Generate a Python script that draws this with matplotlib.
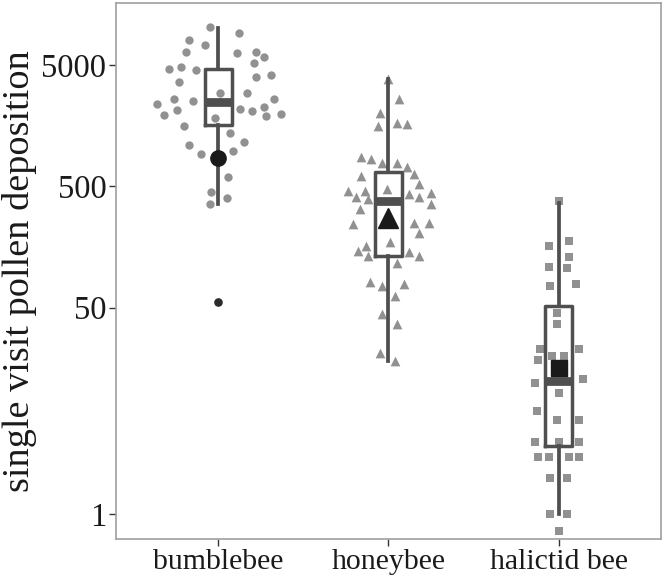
import numpy as np
import matplotlib
matplotlib.use("Agg")
import matplotlib.pyplot as plt

plt.rcParams['font.family'] = ['Liberation Serif', 'DejaVu Serif']

categories = ["bumblebee", "honeybee", "halictid bee"]

# single visit pollen deposition
bumble_vals = [10200, 9220, 8070, 7260, 6350, 6310, 6430, 5780, 5220, 4600,
               4790, 4520, 3980, 4160, 3620, 2920, 2940, 2400, 2610, 2540,
               2130, 1950, 1830, 2160, 2080, 2250, 2620, 1900, 1980, 1570,
               1370, 1090, 1150, 929, 984, 593, 447, 401, 358]
bumble_jit = [-0.05, 0.12, -0.17, -0.08, -0.19, 0.11, 0.22, 0.27, 0.21, -0.29,
              -0.22, -0.13, 0.22, 0.31, -0.23, 0.01, 0.17, -0.36, -0.26, -0.15,
              -0.24, -0.32, -0.02, 0.13, 0.20, 0.27, 0.33, 0.28, 0.37, -0.20,
              0.07, -0.17, 0.15, -0.10, 0.09, 0.06, -0.04, 0.05, -0.05]

honey_vals = [3800, 2610, 2000, 1580, 1650, 1620, 867, 835, 774, 778,
              726, 632, 612, 520, 460, 411, 460, 391, 473, 430,
              408, 443, 360, 327, 245, 251, 251, 205, 174, 161,
              146, 133, 143, 133, 116, 81, 75, 78, 62, 44,
              37, 21, 18.3]
honey_jit = [0.00, 0.06, -0.05, -0.06, 0.05, 0.11, -0.16, -0.10, -0.04, 0.05,
             0.11, 0.15, -0.16, 0.18, -0.24, -0.19, -0.14, -0.12, -0.01, 0.12,
             0.18, 0.25, 0.25, -0.17, -0.21, 0.15, 0.24, 0.18, 0.01, -0.13,
             -0.18, -0.12, 0.12, 0.18, 0.05, -0.11, -0.04, 0.09, 0.04, -0.04,
             0.05, -0.05, 0.04]

halict_vals = [381, 160, 177, 132, 108, 106, 75.5, 79, 45.5, 36.5,
               22.7, 18.7, 20, 20, 22.7, 11.9, 12.9, 10, 7.0, 5.95,
               5.95, 3.94, 3.94, 3.94, 2.97, 2.97, 2.97, 2.97, 1.97, 1.97,
               0.99, 0.99, 0.72]
halict_jit = [0.00, -0.06, 0.06, 0.06, -0.06, 0.05, -0.05, 0.10, -0.01, -0.01,
              -0.11, -0.12, -0.04, 0.03, 0.12, -0.14, 0.14, 0.00, -0.13, -0.01,
              0.12, -0.14, 0.00, 0.12, -0.12, -0.06, 0.06, 0.12, -0.05, 0.05,
              -0.05, 0.05, 0.00]

# box statistics
box_q1 = [1600, 133, 3.65]
box_med = [2460, 379, 12.5]
box_q3 = [4600, 660, 51.7]
whis_lo = [358, 18.3, 1.0]
whis_hi = [10000, 3800, 367]
outliers = [[56], [], []]

means = [851, 273, 15.9]
shapes = ['o', '^', 's']

fig = plt.figure(figsize=(6.65, 5.87), dpi=100)
ax = fig.add_axes([0.1744, 0.0818, 0.8196, 0.9131])

pts_color = '#919191'
dark = '#4f4f4f'
pt_sizes = [6.0, 7.0, 5.3]
all_vals = [bumble_vals, honey_vals, halict_vals]
all_jit = [bumble_jit, honey_jit, halict_jit]
for i in range(3):
    xs = (i + 1) + np.array(all_jit[i])
    ax.scatter(xs, all_vals[i], marker=shapes[i], s=pt_sizes[i] ** 2,
               color=pts_color, linewidths=0, zorder=1)

stats = []
for i in range(3):
    stats.append(dict(med=box_med[i], q1=box_q1[i], q3=box_q3[i],
                      whislo=whis_lo[i], whishi=whis_hi[i], fliers=outliers[i]))
ax.bxp(stats, positions=[1, 2, 3], widths=0.16, showcaps=False,
       boxprops=dict(color=dark, linewidth=2.5),
       whiskerprops=dict(color=dark, linewidth=2.7),
       medianprops=dict(color=dark, linewidth=6.3, solid_capstyle='butt'),
       flierprops=dict(marker='o', markerfacecolor='#2b2b2b',
                       markeredgecolor='#2b2b2b', markersize=5.2),
       zorder=2)

mean_sizes = [11, 14.5, 11]
for i in range(3):
    ax.plot([i + 1], [means[i]], marker=shapes[i], markersize=mean_sizes[i],
            color='#1a1a1a', linestyle='none', zorder=3)

ax.set_yscale('log')
ax.set_ylim(0.622, 16200)
ax.set_xlim(0.4, 3.6)
ax.set_yticks([1, 50, 500, 5000])
ax.set_yticklabels(['1', '50', '500', '5000'])
ax.minorticks_off()
ax.set_xticks([1, 2, 3])
ax.set_xticklabels(categories)
ax.tick_params(axis='both', labelsize=21.5, colors='#333333', length=5,
               width=1, labelcolor='#1a1a1a', pad=2)
ax.tick_params(axis='y', labelsize=23.5)
ax.set_ylabel('single visit pollen deposition', fontsize=27.5,
              color='#1a1a1a', labelpad=3)
for sp in ax.spines.values():
    sp.set_color('#a0a0a0')
    sp.set_linewidth(1.2)

fig.savefig('out.png', dpi=100)
